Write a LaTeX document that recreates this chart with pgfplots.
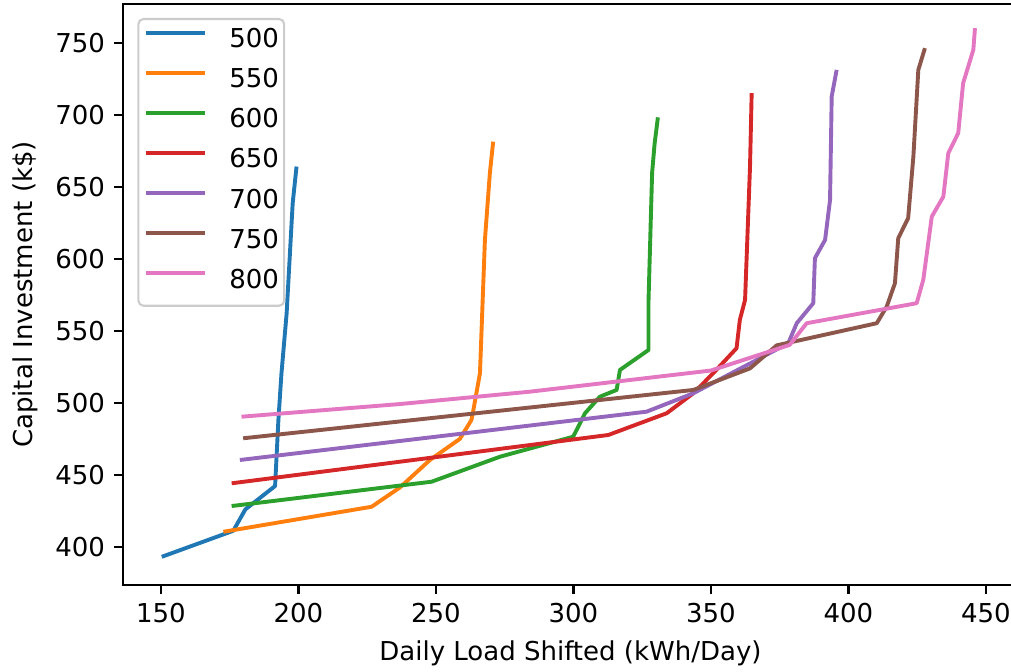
\documentclass[border=0pt]{standalone}
\usepackage{fontspec}
\setmainfont{DejaVu Sans}
\usepackage{pgfplots}
\pgfplotsset{compat=1.18}
\definecolor{C0}{HTML}{1F77B4}
\definecolor{C1}{HTML}{FF7F0E}
\definecolor{C2}{HTML}{2CA02C}
\definecolor{C3}{HTML}{D62728}
\definecolor{C4}{HTML}{9467BD}
\definecolor{C5}{HTML}{8C564B}
\definecolor{C6}{HTML}{E377C2}
\definecolor{legframe}{HTML}{CCCCCC}
\begin{document}
\begin{tikzpicture}
\begin{axis}[
  scale only axis,
  width=343.96pt, height=223.46pt,
  xmin=136.3, xmax=461.5, ymin=373.4, ymax=777.3,
  xtick={150,200,...,450}, ytick={400,450,...,750},
  xtick pos=left, ytick pos=left,
  tick align=outside, major tick length=3.5pt,
  tick style={black, line width=0.8pt},
  axis line style={line width=0.8pt},
  /pgf/number format/assume math mode=true,
  /pgf/number format/1000 sep={},
  ticklabel style={font=\fontsize{10}{12}\selectfont},
  label style={font=\fontsize{10}{12}\selectfont},
  xlabel={Daily Load Shifted (kWh/Day)},
  ylabel={Capital Investment (k\$)},
  every axis plot/.append style={line width=1.5pt, line join=round},
  legend image code/.code={\draw[#1, line width=1.5pt] (0pt,3.6pt) -- (22.7pt,3.6pt);},
  legend cell align=left,
  legend style={at={(0.0157,0.976)}, anchor=north west,
    draw=legframe, line width=0.8pt, rounded corners=2pt,
    fill=white, fill opacity=0.8, text opacity=1,
    font=\fontsize{10}{12}\selectfont,
    inner xsep=2pt, inner ysep=3.8pt,
    nodes={inner sep=0pt, text height=7.3pt, text depth=3pt},
    row sep=5.1pt, column sep=8.8pt},
]
\addplot[C0] coordinates {(150.3,393.0) (176.3,411.1) (180.7,426.0) (191.5,442.2) (192.7,488) (193.8,520) (195.7,562.3) (197.9,638.8) (199.3,664.3)};
\addlegendentry{500}
\addplot[C1] coordinates {(172.7,410.4) (226.6,427.8) (236.9,441.2) (247.8,460.3) (258.7,475.0) (262.9,488.1) (263.6,495) (266.0,520.6) (267.8,613.3) (269.6,659.7) (270.8,681.6)};
\addlegendentry{550}
\addplot[C2] coordinates {(175.7,428.3) (248.4,445.2) (273.3,462.6) (299.9,476.5) (304.2,492.8) (309.6,504.3) (315.7,509.0) (316.9,522.9) (327.3,536.8) (327.3,571.6) (328.6,660) (329.5,680) (330.7,698.5)};
\addlegendentry{600}
\addplot[C3] coordinates {(175.7,444.1) (312.7,477.7) (333.9,492.8) (343.6,506.7) (350.8,520.6) (359.3,538.0) (360.5,557.7) (362.4,571.6) (364.2,664.3) (364.8,715.3)};
\addlegendentry{650}
\addplot[C4] coordinates {(178.7,460.3) (326.6,493.9) (343.6,506.7) (378.1,541.4) (381.2,555.4) (387.2,569.3) (387.8,600.6) (391.5,613.3) (393.3,641.1) (393.9,713.0) (395.7,731.5)};
\addlegendentry{700}
\addplot[C5] coordinates {(179.9,475.4) (343.6,509.0) (364.2,524.0) (373.9,540.0) (410.3,555.4) (413.9,566.9) (416.9,583.2) (418.1,614.5) (421.7,628.4) (423.6,671.2) (425.4,731.5) (427.8,746.6)};
\addlegendentry{750}
\addplot[C6] coordinates {(179.3,490.4) (236.9,499.2) (284.2,507.8) (350.0,522.5) (378.6,540.3) (384.8,555.4) (424.8,569.3) (427.2,585.5) (430.3,629.5) (434.5,643.4) (436.3,673.6) (439.9,687.5) (441.7,722.3) (445.4,745.4) (446.0,760.5)};
\addlegendentry{800}
\coordinate (bbsw) at (axis cs:91.47,313.6);
\coordinate (bbne) at (axis cs:459.1,780.08);
\end{axis}
\pgfresetboundingbox
\useasboundingbox (bbsw) rectangle (bbne);
\end{tikzpicture}
\end{document}
